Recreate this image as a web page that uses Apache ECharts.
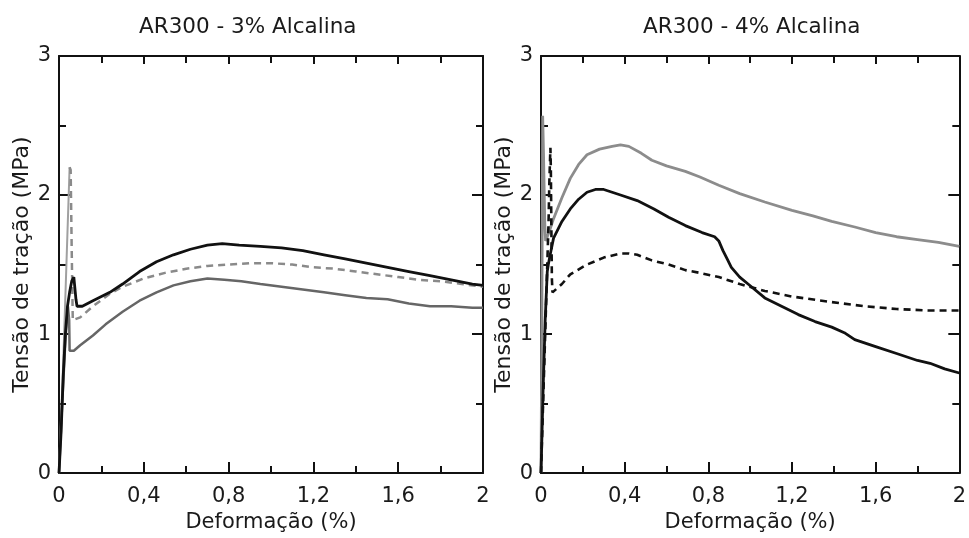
<!DOCTYPE html>
<html>
<head>
<meta charset="utf-8">
<script src="https://cdn.jsdelivr.net/npm/echarts@6/dist/echarts.min.js"></script>
<style>
  html, body { margin: 0; padding: 0; background: #fff; }
  #chart { width: 969px; height: 538px; }
</style>
</head>
<body>
<div id="chart"></div>
<script>
// deformação (%) / tensão (MPa) pairs
const titles = ['AR300 - 3% Alcalina', 'AR300 - 4% Alcalina'];
const xName = 'Deformação (%)';
const yName = 'Tensão de tração (MPa)';
const xTicks = [0, 2, 0.4];   // min, max, interval
const yTicks = [0, 3, 1];

// 3% panel
const a3Black = [[0,0],[0.01,0.3],[0.02,0.7],[0.03,1.0],[0.04,1.2],[0.05,1.3],[0.06,1.38],[0.07,1.41],[0.078,1.4],[0.08,1.25],[0.085,1.2],
  [0.11,1.2],[0.16,1.24],[0.24,1.3],[0.3,1.36],[0.38,1.45],[0.46,1.52],[0.54,1.57],[0.62,1.61],[0.7,1.64],[0.77,1.65],[0.85,1.64],
  [0.95,1.63],[1.05,1.62],[1.15,1.6],[1.25,1.57],[1.35,1.54],[1.45,1.51],[1.55,1.48],[1.65,1.45],[1.75,1.42],[1.85,1.39],[1.95,1.36],[2.0,1.35]];
const a3DashRise = [[0,0],[0.02,0.8],[0.035,1.5],[0.05,2.2]];
const a3Dash = [[0.05,2.2],[0.055,2.18],[0.06,1.6],[0.065,1.1],[0.1,1.12],[0.16,1.2],[0.24,1.29],[0.3,1.34],[0.4,1.4],[0.5,1.44],
  [0.6,1.47],[0.7,1.49],[0.8,1.5],[0.9,1.51],[1.0,1.51],[1.1,1.5],[1.2,1.48],[1.3,1.47],[1.4,1.45],[1.5,1.43],[1.6,1.41],[1.7,1.39],
  [1.8,1.38],[1.9,1.36],[2.0,1.34]];
const a3Gray = [[0,0],[0.015,0.5],[0.03,0.95],[0.042,1.2],[0.048,1.1],[0.05,0.88],[0.07,0.88],[0.1,0.92],[0.16,0.99],[0.22,1.07],
  [0.3,1.16],[0.38,1.24],[0.46,1.3],[0.54,1.35],[0.62,1.38],[0.7,1.4],[0.78,1.39],[0.86,1.38],[0.95,1.36],[1.05,1.34],[1.15,1.32],
  [1.25,1.3],[1.35,1.28],[1.45,1.26],[1.55,1.25],[1.65,1.22],[1.75,1.2],[1.85,1.2],[1.95,1.19],[2.0,1.19]];

// 4% panel
const a4Gray = [[0,0],[0.003,0.8],[0.006,1.8],[0.008,2.57],[0.012,2.3],[0.018,1.8],[0.022,1.67],[0.04,1.74],[0.06,1.83],[0.1,1.98],
  [0.14,2.12],[0.18,2.22],[0.22,2.29],[0.28,2.33],[0.34,2.35],[0.38,2.36],[0.42,2.35],[0.48,2.3],[0.53,2.25],[0.6,2.21],[0.69,2.17],
  [0.76,2.13],[0.85,2.07],[0.95,2.01],[1.07,1.95],[1.2,1.89],[1.3,1.85],[1.39,1.81],[1.5,1.77],[1.6,1.73],[1.7,1.7],[1.8,1.68],
  [1.9,1.66],[2.0,1.63]];
const a4Black = [[0,0],[0.01,0.6],[0.02,1.1],[0.03,1.45],[0.035,1.5],[0.045,1.58],[0.06,1.69],[0.1,1.81],[0.14,1.9],[0.18,1.97],
  [0.22,2.02],[0.26,2.04],[0.3,2.04],[0.38,2.0],[0.46,1.96],[0.54,1.9],[0.61,1.84],[0.69,1.78],[0.77,1.73],[0.83,1.7],[0.85,1.67],
  [0.87,1.6],[0.89,1.54],[0.91,1.48],[0.95,1.41],[0.99,1.36],[1.07,1.26],[1.15,1.2],[1.23,1.14],[1.31,1.09],[1.39,1.05],[1.45,1.01],
  [1.5,0.96],[1.6,0.91],[1.7,0.86],[1.8,0.81],[1.86,0.79],[1.93,0.75],[2.0,0.72]];
const a4Dash = [[0,0],[0.01,0.5],[0.02,1.0],[0.03,1.5],[0.036,1.8],[0.04,2.1],[0.045,2.34],[0.047,2.2],[0.05,1.7],[0.052,1.4],
  [0.055,1.3],[0.1,1.36],[0.14,1.43],[0.22,1.5],[0.3,1.55],[0.38,1.58],[0.42,1.58],[0.46,1.57],[0.53,1.53],[0.61,1.5],[0.69,1.46],
  [0.76,1.44],[0.85,1.41],[0.95,1.36],[1.07,1.31],[1.2,1.27],[1.39,1.23],[1.55,1.2],[1.7,1.18],[1.85,1.17],[2.0,1.17]];

const FONT = 'DejaVu Sans';
const TXT = '#1a1a1a';
const AX = '#111';

function xAx(grid, top) {
  return {
    type: 'value', gridIndex: grid, position: top ? 'top' : 'bottom',
    min: xTicks[0], max: xTicks[1], interval: xTicks[2],
    name: top ? '' : xName, nameLocation: 'middle', nameGap: 37,
    nameTextStyle: { fontFamily: FONT, fontSize: 21, color: TXT },
    axisLine: { show: true, onZero: false, lineStyle: { color: AX, width: 2 } },
    axisTick: { show: true, inside: true, length: top ? 8 : 11, lineStyle: { color: AX, width: 2 } },
    minorTick: { show: true, splitNumber: 2, length: 7, lineStyle: { color: AX, width: 2 } },
    splitLine: { show: false },
    axisLabel: {
      show: !top, margin: 13, fontFamily: FONT, fontSize: 21, color: TXT,
      formatter: v => String(v).replace('.', ',')
    }
  };
}

function yAx(grid, right) {
  return {
    type: 'value', gridIndex: grid, position: right ? 'right' : 'left',
    min: yTicks[0], max: yTicks[1], interval: yTicks[2],
    name: right ? '' : yName, nameLocation: 'middle', nameGap: 26,
    nameTextStyle: { fontFamily: FONT, fontSize: 22, color: TXT },
    axisLine: { show: true, onZero: false, lineStyle: { color: AX, width: 2 } },
    axisTick: { show: true, inside: true, length: 11, lineStyle: { color: AX, width: 2 } },
    minorTick: { show: true, splitNumber: 2, length: 7, lineStyle: { color: AX, width: 2 } },
    splitLine: { show: false },
    axisLabel: { show: !right, margin: 8, fontFamily: FONT, fontSize: 21, color: TXT }
  };
}

function line(data, xi, yi, color, width, dashed) {
  return {
    type: 'line', data: data, xAxisIndex: xi, yAxisIndex: yi,
    showSymbol: false, symbol: 'none', silent: true,
    lineStyle: { color: color, width: width, type: dashed ? [7, 5] : 'solid' }
  };
}

var myChart = echarts.init(document.getElementById('chart'));

const option = {
  backgroundColor: '#fff',
  animation: false,
  title: [
    { text: titles[0], left: 139, top: 16, padding: 0, textStyle: { fontFamily: FONT, fontSize: 21.5, fontWeight: 'normal', color: TXT } },
    { text: titles[1], left: 643, top: 16, padding: 0, textStyle: { fontFamily: FONT, fontSize: 21.5, fontWeight: 'normal', color: TXT } }
  ],
  grid: [
    { left: 59, top: 56, width: 424, height: 422 },
    { left: 541, top: 56, width: 421, height: 422 }
  ],
  xAxis: [xAx(0, false), xAx(0, true), xAx(1, false), xAx(1, true)],
  yAxis: [yAx(0, false), yAx(0, true), yAx(1, false), yAx(1, true)],
  series: [
    line(a3DashRise, 0, 0, '#a0a0a0', 2, false),
    line(a3Dash, 0, 0, '#8a8a8a', 2.5, true),
    line(a3Gray, 0, 0, '#666', 2.5, false),
    line(a3Black, 0, 0, '#111', 2.8, false),
    line(a4Gray, 2, 2, '#8c8c8c', 2.8, false),
    line(a4Dash, 2, 2, '#111', 2.6, true),
    line(a4Black, 2, 2, '#111', 2.8, false)
  ]
};

option && myChart.setOption(option);

window.addEventListener('resize', function () {
  myChart.resize();
});
</script>
</body>
</html>
